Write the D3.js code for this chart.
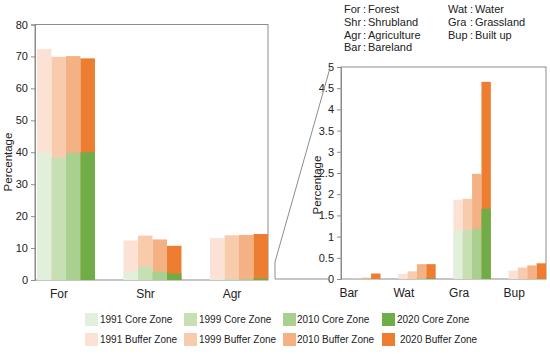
<!DOCTYPE html>
<meta charset="utf-8">
<html>
<head>
<script src="https://d3js.org/d3.v7.min.js"></script>
<style>
    body { margin: 0; background: white; }
    text { font-family: "Liberation Sans", Arial, sans-serif; fill: #222; }
</style>
</head>
<body>
<div id="chartsdiv"></div>
<script>

// land cover classes (left panel: first three, right panel: zoomed-in rest)
var cats = ["For", "Shr", "Agr", "Bar", "Wat", "Gra", "Bup"];
var years = ["1991", "1999", "2010", "2020"];

// percentages, same order as cats
var buffer1991 = [72.3, 12.4, 13.1, 0.00, 0.12, 1.87, 0.20];
var buffer1999 = [69.9, 13.9, 14.0, 0.01, 0.18, 1.89, 0.27];
var buffer2010 = [70.1, 12.7, 14.1, 0.03, 0.35, 2.48, 0.32];
var buffer2020 = [69.4, 10.7, 14.4, 0.13, 0.35, 4.65, 0.37];
var core1991 = [39.9, 2.6, 0.2, 0, 0, 1.15, 0];
var core1999 = [38.2, 4.1, 0.3, 0, 0, 1.16, 0];
var core2010 = [39.8, 2.6, 0.3, 0, 0.02, 1.18, 0];
var core2020 = [40.0, 2.0, 0.5, 0, 0.02, 1.66, 0];

var ticksLeft = [0, 10, 20, 30, 40, 50, 60, 70, 80];
var ticksRight = [0, 0.5, 1, 1.5, 2, 2.5, 3, 3.5, 4, 4.5, 5];

var abbrevs = [["For", "Forest"], ["Shr", "Shrubland"], ["Agr", "Agriculture"], ["Bar", "Bareland"],
               ["Wat", "Water"], ["Gra", "Grassland"], ["Bup", "Built up"]];

var buffers = [buffer1991, buffer1999, buffer2010, buffer2020];
var cores = [core1991, core1999, core2010, core2020];

const colorCore = ["#e2efda", "#c6e0b4", "#a9d08e", "#70ad47"];
const colorBuffer = ["#fbe2d5", "#f8cbad", "#f4b183", "#ed7d31"];
const frameColor = "#8c8c8c";

const svg = d3.select("#chartsdiv")
    .append("svg")
    .attr("width", 550)
    .attr("height", 354);

// draws one framed panel; catIdx = which entries of cats it shows
function drawPanel(catIdx, x0, x1, y0, y1, yMax, ticks, pad, labelShift, titleX, titleY, fmt) {
    var names = catIdx.map(i => cats[i]);

    var scaleX = d3.scaleBand()
        .domain(names)
        .range([x0 + 2, x1])
        .paddingInner(pad)
        .paddingOuter(0);

    var scaleSub = d3.scaleBand()
        .domain(years)
        .range([0, scaleX.bandwidth()]);

    var scaleY = d3.scaleLinear()
        .domain([0, yMax])
        .range([y1, y0]);

    // frame
    svg.append("rect")
        .attr("x", x0).attr("y", y0)
        .attr("width", x1 - x0).attr("height", y1 - y0)
        .attr("fill", "none")
        .attr("stroke", frameColor)
        .attr("stroke-width", 1);

    // buffer bars behind, core bars in front
    var rows = [];
    catIdx.forEach(function(ci) {
        years.forEach(function(yr, k) {
            rows.push({cat: cats[ci], yr: yr, k: k, buf: buffers[k][ci], core: cores[k][ci]});
        });
    });

    svg.append("g").selectAll("rect")
        .data(rows)
        .enter()
        .append("rect")
        .attr("x", d => scaleX(d.cat) + scaleSub(d.yr))
        .attr("y", d => scaleY(d.buf))
        .attr("width", scaleSub.bandwidth())
        .attr("height", d => scaleY(0) - scaleY(d.buf))
        .attr("fill", d => colorBuffer[d.k]);

    svg.append("g").selectAll("rect")
        .data(rows)
        .enter()
        .append("rect")
        .attr("x", d => scaleX(d.cat) + scaleSub(d.yr))
        .attr("y", d => scaleY(d.core))
        .attr("width", scaleSub.bandwidth())
        .attr("height", d => scaleY(0) - scaleY(d.core))
        .attr("fill", d => colorCore[d.k]);

    // y axis
    var axisY = svg.append("g")
        .attr("transform", "translate(" + x0 + ",0)")
        .call(d3.axisLeft(scaleY).tickValues(ticks).tickFormat(fmt).tickSize(4).tickPadding(3));
    axisY.select(".domain").attr("stroke", frameColor);
    axisY.selectAll(".tick line").attr("stroke", frameColor);
    axisY.selectAll("text")
        .style("font-family", "'Liberation Sans', Arial, sans-serif")
        .style("font-size", "11px")
        .attr("fill", "#222");

    // category labels
    svg.append("g").selectAll("text")
        .data(names)
        .enter()
        .append("text")
        .attr("x", d => scaleX(d) + scaleX.bandwidth() / 2 + labelShift)
        .attr("y", y1 + 18)
        .attr("text-anchor", "middle")
        .style("font-size", "12px")
        .text(d => d);

    svg.append("text")
        .attr("transform", "translate(" + titleX + "," + titleY + ") rotate(-90)")
        .attr("text-anchor", "middle")
        .style("font-size", "11.5px")
        .text("Percentage");

    return scaleY;
}

var fmtLeft = d3.format("d");
var fmtRight = function(v) { return String(v); };

drawPanel([0, 1, 2], 35, 268, 24.5, 280, 80, ticksLeft, 0.33, -7, 12, 162, fmtLeft);
drawPanel([3, 4, 5, 6], 341, 546, 67, 279, 5, ticksRight, 0.32, -13, 321, 185, fmtRight);

// zoom connector between the panels
svg.append("path")
    .attr("d", "M330,68 L275,262 L275,279 L329,279")
    .attr("fill", "none")
    .attr("stroke", frameColor)
    .attr("stroke-width", 1);

// abbreviation key, top right
var key = svg.append("g");
abbrevs.forEach(function(a, i) {
    var col = i < 4 ? 0 : 1;
    var row = i < 4 ? i : i - 4;
    var bx = col === 0 ? 344 : 448;
    var by = 13 + row * 12.8;
    key.append("text").attr("x", bx).attr("y", by).style("font-size", "11px").text(a[0]);
    key.append("text").attr("x", bx + (col === 0 ? 19 : 22)).attr("y", by).style("font-size", "11px").text(":");
    key.append("text").attr("x", bx + (col === 0 ? 24 : 27)).attr("y", by).style("font-size", "11px").text(a[1]);
});

// legend, two rows
var legX = [85, 184, 283, 382];
var legTextX = [100, 199, 297, 397];
var legend = svg.append("g");
years.forEach(function(yr, k) {
    legend.append("rect")
        .attr("x", legX[k]).attr("y", 313)
        .attr("width", 13).attr("height", 13)
        .attr("fill", colorCore[k]);
    legend.append("text")
        .attr("x", legTextX[k]).attr("y", 323)
        .style("font-size", "10px")
        .text(yr + " Core Zone");
    legend.append("rect")
        .attr("x", legX[k]).attr("y", 333)
        .attr("width", 13).attr("height", 13)
        .attr("fill", colorBuffer[k]);
    legend.append("text")
        .attr("x", legTextX[k] + (k === 3 ? 3 : 0)).attr("y", 343)
        .style("font-size", "10px")
        .text(yr + " Buffer Zone");
});

</script>
</body>
</html>
